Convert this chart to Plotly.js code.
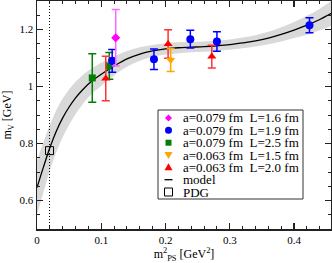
<!DOCTYPE html>
<html>
<head>
<meta charset="utf-8">
<script src="https://cdn.plot.ly/plotly-3.0.1.min.js"></script>
<style>html,body{margin:0;padding:0;background:#fff}#chart{width:332px;height:263px}</style>
</head>
<body>
<div id="chart"></div>
<script>
// ---- data ----
const magX = [0.1225], magY = [1.171], magE = [0.099];
const blueX = [0.117, 0.182, 0.2386, 0.280, 0.424];
const blueY = [1.090, 1.096, 1.166, 1.158, 1.215];
const blueE = [0.040, 0.036, 0.031, 0.034, 0.026];
const greenX = [0.086, 0.1125], greenY = [1.030, 1.072], greenE = [0.085, 0.047];
const orangeX = [0.208], orangeY = [1.093], orangeE = [0.040];
const redX = [0.107, 0.204, 0.272], redY = [1.028, 1.149, 1.105], redE = [0.078, 0.050, 0.040];
const pdgX = [0.0195], pdgY = [0.775];
const mpi2Line = [0.0195, 0.0195], mpi2LineY = [0.5, 1.3];

const modelX = [0, 0.01, 0.02, 0.03, 0.04, 0.05, 0.06, 0.07, 0.08, 0.09, 0.10, 0.11, 0.12, 0.14, 0.16, 0.18,
                0.20, 0.22, 0.24, 0.26, 0.28, 0.30, 0.32, 0.34, 0.36, 0.38, 0.40, 0.42, 0.44, 0.46];
const modelY = [0.645, 0.717, 0.785, 0.843, 0.890, 0.928, 0.960, 0.986, 1.009, 1.027, 1.043, 1.058, 1.072, 1.097, 1.114, 1.125,
                1.132, 1.136, 1.138, 1.140, 1.143, 1.147, 1.153, 1.160, 1.170, 1.183, 1.198, 1.215, 1.235, 1.259];
const bandUp = [0.740, 0.805, 0.865, 0.917, 0.958, 0.990, 1.017, 1.038, 1.056, 1.070, 1.083, 1.094, 1.105, 1.125, 1.138, 1.146,
                1.152, 1.155, 1.156, 1.158, 1.161, 1.165, 1.172, 1.180, 1.192, 1.208, 1.226, 1.248, 1.273, 1.303];
const bandLo = [0.550, 0.629, 0.705, 0.769, 0.822, 0.866, 0.903, 0.934, 0.962, 0.984, 1.003, 1.022, 1.039, 1.069, 1.090, 1.104,
                1.112, 1.117, 1.120, 1.122, 1.125, 1.129, 1.134, 1.140, 1.148, 1.158, 1.170, 1.182, 1.197, 1.215];

const legendLabels = ['a=0.079 fm\u00a0\u00a0L=1.6 fm', 'a=0.079 fm\u00a0\u00a0L=1.9 fm', 'a=0.079 fm\u00a0\u00a0L=2.5 fm',
                      'a=0.063 fm\u00a0\u00a0L=1.5 fm', 'a=0.063 fm\u00a0\u00a0L=2.0 fm', 'model', 'PDG'];

const FONT = 'Liberation Serif, Times New Roman, serif';

function pts(x, y, e, color, ecolor, symbol, size) {
  return {x: x, y: y, type: 'scatter', mode: 'markers', showlegend: false, cliponaxis: false,
    marker: {color: color, symbol: symbol, size: size, line: {width: 0}},
    error_y: {type: 'data', array: e, visible: true, color: ecolor, thickness: 1.5, width: 4}};
}

const traces = [
  {x: modelX, y: bandLo, type: 'scatter', mode: 'lines', line: {width: 0, shape: 'spline'}, showlegend: false, hoverinfo: 'skip'},
  {x: modelX, y: bandUp, type: 'scatter', mode: 'lines', fill: 'tonexty', fillcolor: '#d9d9d9', line: {width: 0, shape: 'spline'}, showlegend: false, hoverinfo: 'skip'},
  {x: modelX, y: modelY, type: 'scatter', mode: 'lines', line: {color: '#000', width: 1.3, shape: 'spline'}, showlegend: false},
  {x: mpi2Line, y: mpi2LineY, type: 'scatter', mode: 'lines', line: {color: '#000', width: 1, dash: '1px,2px'}, showlegend: false},
  {x: pdgX, y: pdgY, type: 'scatter', mode: 'markers', showlegend: false,
    marker: {symbol: 'square-open', size: 8, color: '#000', line: {width: 1}}},
  pts(greenX, greenY, greenE, '#008000', '#008000', 'square', 7),
  pts(redX, redY, redE, '#ff0000', '#ff3333', 'triangle-up', 8),
  pts(orangeX, orangeY, orangeE, '#ffa500', '#ffa500', 'triangle-down', 8),
  pts(blueX, blueY, blueE, '#0000ff', '#0000ff', 'circle', 8),
  pts(magX, magY, magE, '#ff00ff', '#ff66ff', 'diamond', 7)
];

// legend (manual, to match the compact original box)
const L = 37, T = 1, PW = 294, PH = 228;
const px2x = p => (p - L) / PW;
const py2y = p => (T + PH - p) / PH;
const rowsPx = [118, 130.3, 142.7, 155, 167.3, 179.7, 192];
const symX = px2x(168.5), textX = px2x(182);
const shapes = [
  {type: 'rect', xref: 'paper', yref: 'paper', x0: px2x(158), x1: px2x(303), y0: py2y(199), y1: py2y(110),
   line: {color: '#333', width: 1}, fillcolor: '#fff', layer: 'above'}
];
function pshape(i, s) {
  return Object.assign({xref: 'paper', yref: 'paper', xsizemode: 'pixel', ysizemode: 'pixel',
    xanchor: symX, yanchor: py2y(rowsPx[i]), layer: 'above'}, s);
}
shapes.push(pshape(0, {type: 'path', path: 'M0,3.5 L3.5,0 L0,-3.5 L-3.5,0 Z', fillcolor: '#ff00ff', line: {width: 0}}));
shapes.push(pshape(1, {type: 'circle', x0: -3.5, x1: 3.5, y0: -3.5, y1: 3.5, fillcolor: '#0000ff', line: {width: 0}}));
shapes.push(pshape(2, {type: 'rect', x0: -3, x1: 3, y0: -3, y1: 3, fillcolor: '#008000', line: {width: 0}}));
shapes.push(pshape(3, {type: 'path', path: 'M-4,3 L4,3 L0,-4 Z', fillcolor: '#ffa500', line: {width: 0}}));
shapes.push(pshape(4, {type: 'path', path: 'M-4,-3 L4,-3 L0,4 Z', fillcolor: '#ff0000', line: {width: 0}}));
shapes.push(pshape(5, {type: 'line', x0: -4, x1: 4, y0: 0, y1: 0, line: {color: '#000', width: 1.3}}));
shapes.push(pshape(6, {type: 'rect', x0: -4, x1: 4, y0: -4, y1: 4, line: {color: '#000', width: 1}, fillcolor: 'rgba(0,0,0,0)'}));

const annotations = legendLabels.map((t, i) => ({
  text: t, xref: 'paper', yref: 'paper', x: textX, y: py2y(rowsPx[i]), xanchor: 'left', yanchor: 'middle',
  showarrow: false, borderpad: 0, font: {family: FONT, size: 13, color: '#000'}
}));

const axisCommon = {
  showline: true, linecolor: '#222', linewidth: 1.5, mirror: 'allticks', ticks: 'inside',
  ticklen: 6, tickwidth: 1.2, tickcolor: '#222', showgrid: false, zeroline: false,
  tickfont: {family: FONT, size: 11, color: '#000'}
};

const layout = {
  width: 332, height: 263,
  margin: {l: L, r: 1, t: T, b: 34, pad: 0},
  paper_bgcolor: '#fff', plot_bgcolor: '#fff',
  showlegend: false,
  xaxis: Object.assign({}, axisCommon, {
    range: [0, 0.4575], tick0: 0, dtick: 0.1,
    minor: {dtick: 0.02, ticks: 'inside', ticklen: 3, tickwidth: 1, tickcolor: '#222'},
    title: {text: 'm<sup>2</sup><sub>PS</sub> [GeV<sup>2</sup>]', font: {family: FONT, size: 12, color: '#000'}, standoff: 6}
  }),
  yaxis: Object.assign({}, axisCommon, {
    range: [0.5, 1.3], tick0: 0, dtick: 0.2,
    minor: {dtick: 0.05, ticks: 'inside', ticklen: 3, tickwidth: 1, tickcolor: '#222'},
    title: {text: 'm<sub>V</sub> [GeV]', font: {family: FONT, size: 12, color: '#000'}, standoff: 6}
  }),
  shapes: shapes,
  annotations: annotations
};

Plotly.newPlot('chart', traces, layout, {staticPlot: true, displayModeBar: false});
</script>
</body>
</html>
